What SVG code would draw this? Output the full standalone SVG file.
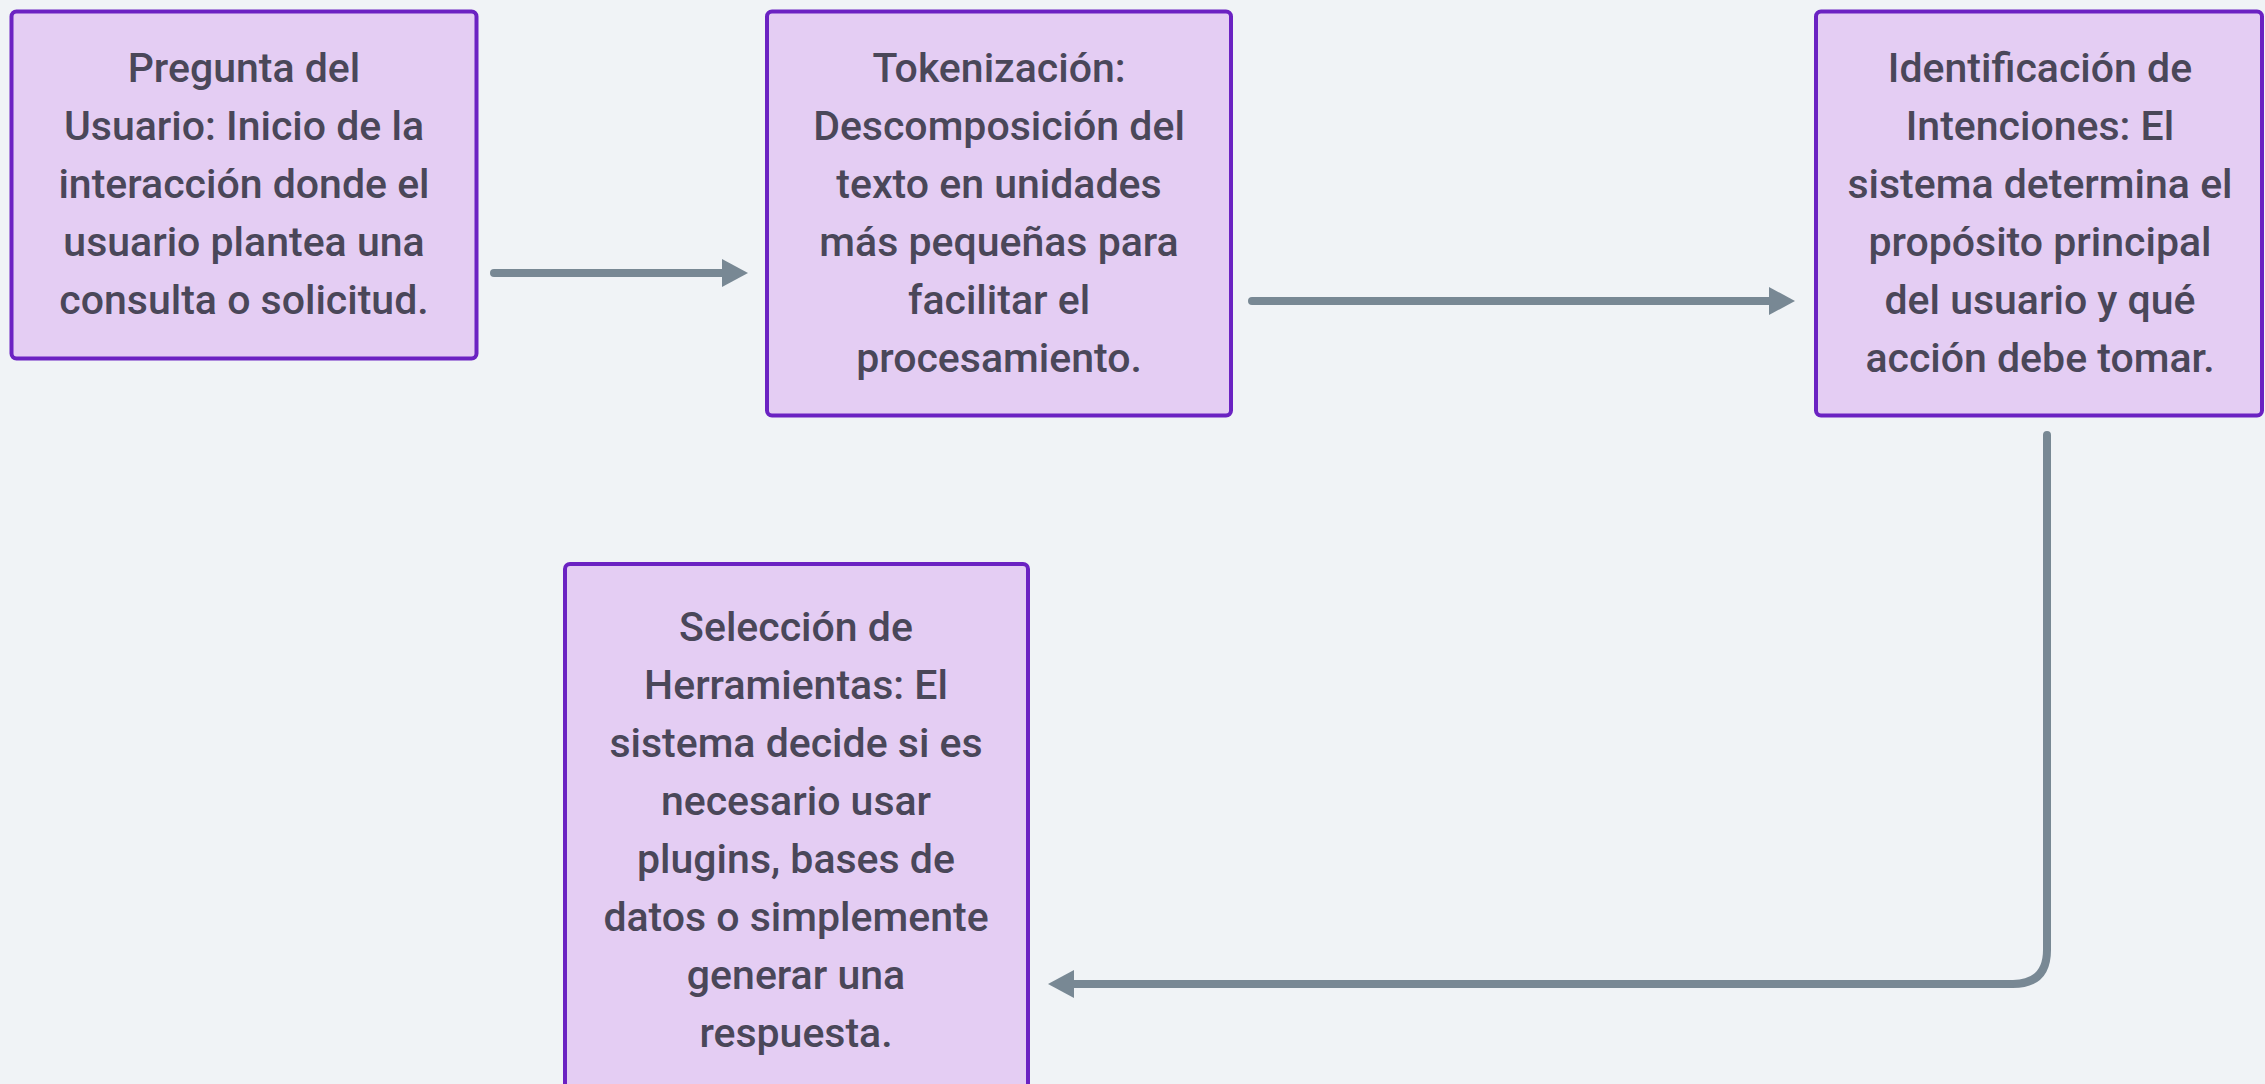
<svg xmlns="http://www.w3.org/2000/svg" width="2265" height="1084" viewBox="0 0 2265 1084">
<style>
.box{fill:#e4cdf3;stroke:#6b22c2;stroke-width:4}
.t{font-family:Roboto,"Noto Sans",sans-serif;font-size:41px;font-weight:500;fill:#4a4759;text-anchor:middle}
.c{fill:none;stroke:#788894;stroke-width:8;stroke-linecap:round;stroke-linejoin:round}
</style>
<defs>
<marker id="ah" markerUnits="userSpaceOnUse" markerWidth="28" markerHeight="34" refX="2" refY="17" orient="auto">
<path d="M0,3 L26,17 L0,31 Z" fill="#788894"/>
</marker>
</defs>
<rect width="2265" height="1084" fill="#f0f3f6"/>
<g id="connectors">
<path class="c" d="M494,273 H724" marker-end="url(#ah)"/>
<path class="c" d="M1252,301 H1771" marker-end="url(#ah)"/>
<path class="c" d="M2047,435 V950 Q2047,984 2013,984 H1072" marker-end="url(#ah)"/>
</g>
<g id="n1">
<rect class="box" x="11.5" y="11.5" width="465" height="347" rx="5"/>
<text class="t"><tspan x="244" y="82">Pregunta del</tspan><tspan x="244" y="140">Usuario: Inicio de la</tspan><tspan x="244" y="198">interacción donde el</tspan><tspan x="244" y="256">usuario plantea una</tspan><tspan x="244" y="314">consulta o solicitud.</tspan></text>
</g>
<g id="n2">
<rect class="box" x="767" y="11.5" width="464" height="404" rx="5"/>
<text class="t"><tspan x="999" y="82">Tokenización:</tspan><tspan x="999" y="140">Descomposición del</tspan><tspan x="999" y="198">texto en unidades</tspan><tspan x="999" y="256">más pequeñas para</tspan><tspan x="999" y="314">facilitar el</tspan><tspan x="999" y="372">procesamiento.</tspan></text>
</g>
<g id="n3">
<rect class="box" x="1816" y="11.5" width="446" height="404" rx="5"/>
<text class="t"><tspan x="2040" y="82">Identificación de</tspan><tspan x="2040" y="140">Intenciones: El</tspan><tspan x="2040" y="198">sistema determina el</tspan><tspan x="2040" y="256">propósito principal</tspan><tspan x="2040" y="314">del usuario y qué</tspan><tspan x="2040" y="372">acción debe tomar.</tspan></text>
</g>
<g id="n4">
<rect class="box" x="565" y="564" width="463" height="560" rx="5"/>
<text class="t"><tspan x="796" y="641">Selección de</tspan><tspan x="796" y="699">Herramientas: El</tspan><tspan x="796" y="757">sistema decide si es</tspan><tspan x="796" y="815">necesario usar</tspan><tspan x="796" y="873">plugins, bases de</tspan><tspan x="796" y="931">datos o simplemente</tspan><tspan x="796" y="989">generar una</tspan><tspan x="796" y="1047">respuesta.</tspan></text>
</g>
</svg>
